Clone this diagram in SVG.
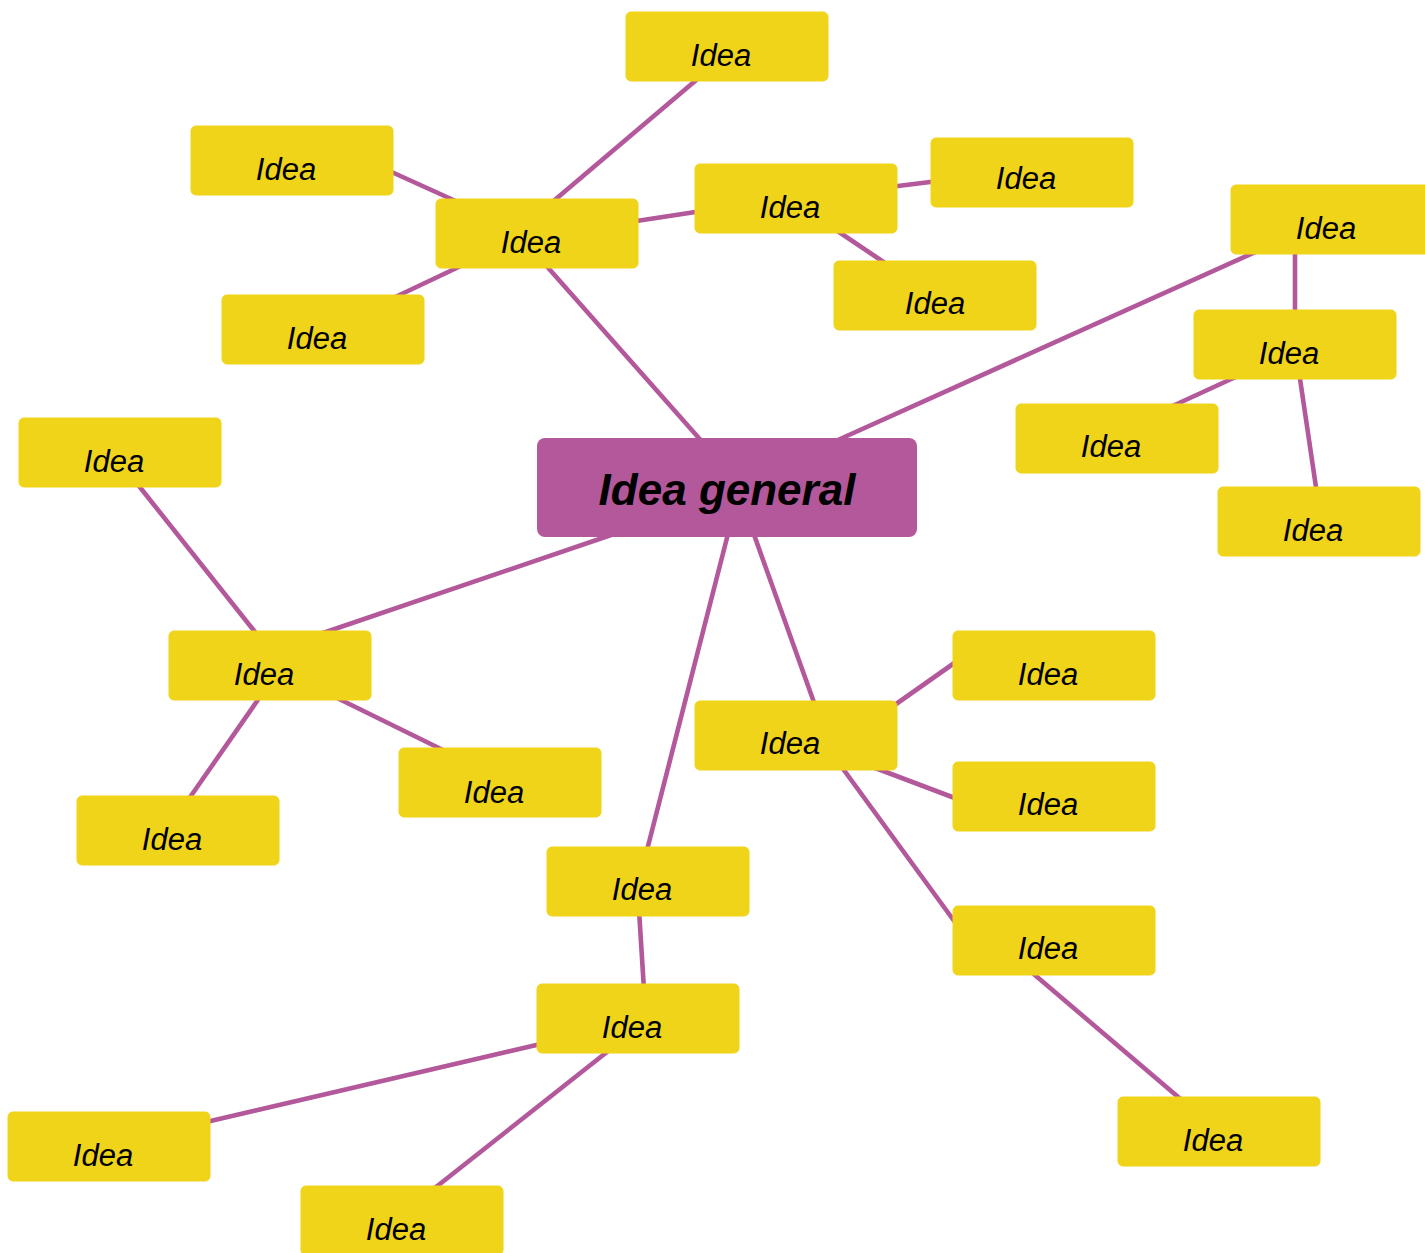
<svg xmlns="http://www.w3.org/2000/svg" width="1425" height="1253" viewBox="0 0 1425 1253">
<style>
.c line{stroke:#B3589A;stroke-width:4.6;stroke-linecap:butt}
.n rect{fill:#F0D419;stroke:#F0D419;stroke-width:1}
.n text{font-family:"Liberation Sans",Arial,sans-serif;font-style:italic;font-size:31px;fill:#000;text-anchor:middle}
.m rect{fill:#B3589A}
.m text{font-family:"Liberation Sans",Arial,sans-serif;font-style:italic;font-weight:bold;font-size:44px;fill:#000;text-anchor:middle}
</style>
<rect width="1425" height="1253" fill="#fff"/>
<g id="connectors" class="c">
<line x1="701" y1="76" x2="550" y2="204"/>
<line x1="385" y1="169" x2="460" y2="203"/>
<line x1="389" y1="300" x2="465" y2="264"/>
<line x1="630" y1="222" x2="702" y2="211"/>
<line x1="890" y1="187" x2="938" y2="181"/>
<line x1="833" y1="228" x2="891" y2="267"/>
<line x1="543" y1="262" x2="705" y2="445"/>
<line x1="829" y1="444" x2="1262" y2="249"/>
<line x1="1295" y1="250" x2="1295" y2="314"/>
<line x1="1240" y1="375" x2="1166" y2="409"/>
<line x1="1299" y1="372" x2="1317" y2="494"/>
<line x1="135" y1="481" x2="259" y2="637"/>
<line x1="617" y1="533" x2="320" y2="634"/>
<line x1="333" y1="696" x2="447" y2="752"/>
<line x1="262" y1="694" x2="186" y2="803"/>
<line x1="752" y1="529" x2="816" y2="708"/>
<line x1="889" y1="709" x2="960" y2="659"/>
<line x1="870" y1="766" x2="960" y2="800"/>
<line x1="838" y1="762" x2="960" y2="929"/>
<line x1="1029" y1="970" x2="1184" y2="1102"/>
<line x1="729" y1="530" x2="646" y2="854"/>
<line x1="639" y1="910" x2="644" y2="990"/>
<line x1="545" y1="1043" x2="202" y2="1123"/>
<line x1="612" y1="1048" x2="431" y2="1191"/>
</g>
<g id="central" class="m"><rect x="537" y="438" width="380" height="99" rx="8"/><text x="727" y="505">Idea general</text></g>
<g id="n1" class="n"><rect x="626" y="12" width="202" height="69" rx="5"/><text x="721" y="66">Idea</text></g>
<g id="n2" class="n"><rect x="191" y="126" width="202" height="69" rx="5"/><text x="286" y="180">Idea</text></g>
<g id="n3" class="n"><rect x="436" y="199" width="202" height="69" rx="5"/><text x="531" y="253">Idea</text></g>
<g id="n4" class="n"><rect x="695" y="164" width="202" height="69" rx="5"/><text x="790" y="218">Idea</text></g>
<g id="n5" class="n"><rect x="931" y="138" width="202" height="69" rx="5"/><text x="1026" y="189">Idea</text></g>
<g id="n6" class="n"><rect x="834" y="261" width="202" height="69" rx="5"/><text x="935" y="314">Idea</text></g>
<g id="n7" class="n"><rect x="222" y="295" width="202" height="69" rx="5"/><text x="317" y="349">Idea</text></g>
<g id="n8" class="n"><rect x="1231" y="185" width="202" height="69" rx="5"/><text x="1326" y="239">Idea</text></g>
<g id="n9" class="n"><rect x="1194" y="310" width="202" height="69" rx="5"/><text x="1289" y="364">Idea</text></g>
<g id="n10" class="n"><rect x="1016" y="404" width="202" height="69" rx="5"/><text x="1111" y="457">Idea</text></g>
<g id="n11" class="n"><rect x="1218" y="487" width="202" height="69" rx="5"/><text x="1313" y="541">Idea</text></g>
<g id="n12" class="n"><rect x="19" y="418" width="202" height="69" rx="5"/><text x="114" y="472">Idea</text></g>
<g id="n14" class="n"><rect x="169" y="631" width="202" height="69" rx="5"/><text x="264" y="685">Idea</text></g>
<g id="n15" class="n"><rect x="399" y="748" width="202" height="69" rx="5"/><text x="494" y="803">Idea</text></g>
<g id="n16" class="n"><rect x="77" y="796" width="202" height="69" rx="5"/><text x="172" y="850">Idea</text></g>
<g id="n17" class="n"><rect x="953" y="631" width="202" height="69" rx="5"/><text x="1048" y="685">Idea</text></g>
<g id="n18" class="n"><rect x="695" y="701" width="202" height="69" rx="5"/><text x="790" y="754">Idea</text></g>
<g id="n19" class="n"><rect x="953" y="762" width="202" height="69" rx="5"/><text x="1048" y="815">Idea</text></g>
<g id="n20" class="n"><rect x="547" y="847" width="202" height="69" rx="5"/><text x="642" y="900">Idea</text></g>
<g id="n21" class="n"><rect x="953" y="906" width="202" height="69" rx="5"/><text x="1048" y="959">Idea</text></g>
<g id="n22" class="n"><rect x="537" y="984" width="202" height="69" rx="5"/><text x="632" y="1038">Idea</text></g>
<g id="n23" class="n"><rect x="1118" y="1097" width="202" height="69" rx="5"/><text x="1213" y="1151">Idea</text></g>
<g id="n24" class="n"><rect x="8" y="1112" width="202" height="69" rx="5"/><text x="103" y="1166">Idea</text></g>
<g id="n25" class="n"><rect x="301" y="1186" width="202" height="69" rx="5"/><text x="396" y="1240">Idea</text></g>
</svg>
